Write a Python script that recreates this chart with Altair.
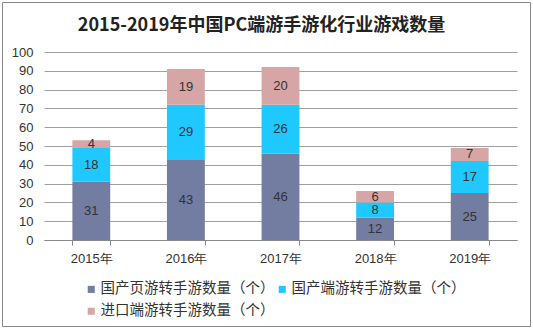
import altair as alt
import pandas as pd

title_text = "2015-2019年中国PC端游手游化行业游戏数量"
years = ["2015年", "2016年", "2017年", "2018年", "2019年"]
series = ["国产页游转手游数量（个）", "国产端游转手游数量（个）", "进口端游转手游数量（个）"]
s_web = [31, 43, 46, 12, 25]
s_pc = [18, 29, 26, 8, 17]
s_import = [4, 19, 20, 6, 7]
colors = ["#737CA1", "#1FC8FF", "#D5A6A5"]
y_ticks = [0, 10, 20, 30, 40, 50, 60, 70, 80, 90, 100]

rows = []
for i, (name, vals) in enumerate(zip(series, [s_web, s_pc, s_import])):
    for yr, v in zip(years, vals):
        rows.append({"year": yr, "series": name, "idx": i, "value": v})
df = pd.DataFrame(rows)

W, H = 473, 188

base = alt.Chart(df).transform_stack(
    stack="value", groupby=["year"],
    sort=[alt.SortField("idx", order="ascending")], as_=["y0", "y1"]
).transform_calculate(mid="(datum.y0 + datum.y1) / 2")

xaxis = alt.Axis(labelAngle=0, tickBand="extent", domainColor="#888888",
                 tickColor="#888888", tickSize=5, labelFontSize=13,
                 labelColor="#333333", labelPadding=7, grid=False,
                 labelFont="Liberation Sans")
xscale = alt.Scale(paddingInner=0.6, paddingOuter=0.3)
yaxis = alt.Axis(values=y_ticks, domain=False, ticks=False,
                 gridColor="#A0A0A0", labelFontSize=13, labelOverlap=False,
                 labelFlush=False, labelColor="#333333", labelPadding=11,
                 labelFont="Liberation Sans")
yscale = alt.Scale(domain=[0, 100], nice=False)

bars = base.mark_bar().encode(
    x=alt.X("year:N", sort=years, title=None, scale=xscale, axis=xaxis),
    y=alt.Y("y1:Q", title=None, scale=yscale, axis=yaxis),
    y2="y0:Q",
    color=alt.Color("series:N", scale=alt.Scale(domain=series, range=colors),
                    legend=alt.Legend(title=None, orient="none", legendX=40, legendY=230,
                                      columns=2, direction="horizontal",
                                      symbolType="square", symbolSize=50,
                                      labelFontSize=14.5, labelFont="Noto Sans CJK SC",
                                      labelLimit=0, labelOffset=2, columnPadding=-18,
                                      rowPadding=7,
                                      labelColor="#333333", symbolStrokeWidth=0)),
    order=alt.Order("idx:Q"),
)

labels = base.mark_text(fontSize=13, color="#333333", font="Liberation Sans").encode(
    x=alt.X("year:N", sort=years, title=None, scale=xscale, axis=xaxis),
    y=alt.Y("mid:Q", title=None, scale=yscale, axis=yaxis),
    text=alt.Text("value:Q"),
)

title = alt.Chart(pd.DataFrame({"t": [title_text]})).mark_text(
    fontSize=18, font="Noto Sans CJK SC", fontWeight="bold", color="#222222",
    align="center", baseline="middle"
).encode(text="t:N", x=alt.value(W / 2 - 19), y=alt.value(-26))

border = alt.Chart(pd.DataFrame({"k": [0]})).mark_rect(
    filled=False, stroke="#888888", strokeWidth=1
).encode(
    x=alt.value(-41.5), x2=alt.value(W + 13.5),
    y=alt.value(-49.5), y2=alt.value(H + 86.5),
)

chart = alt.layer(bars, labels, title, border).properties(
    width=W, height=H,
    autosize=alt.AutoSizeParams(type="none"),
    padding={"left": 44, "top": 52, "right": 16, "bottom": 89},
).configure_view(stroke=None)

chart.save("out.html", embed_options={"renderer": "svg", "actions": False})
